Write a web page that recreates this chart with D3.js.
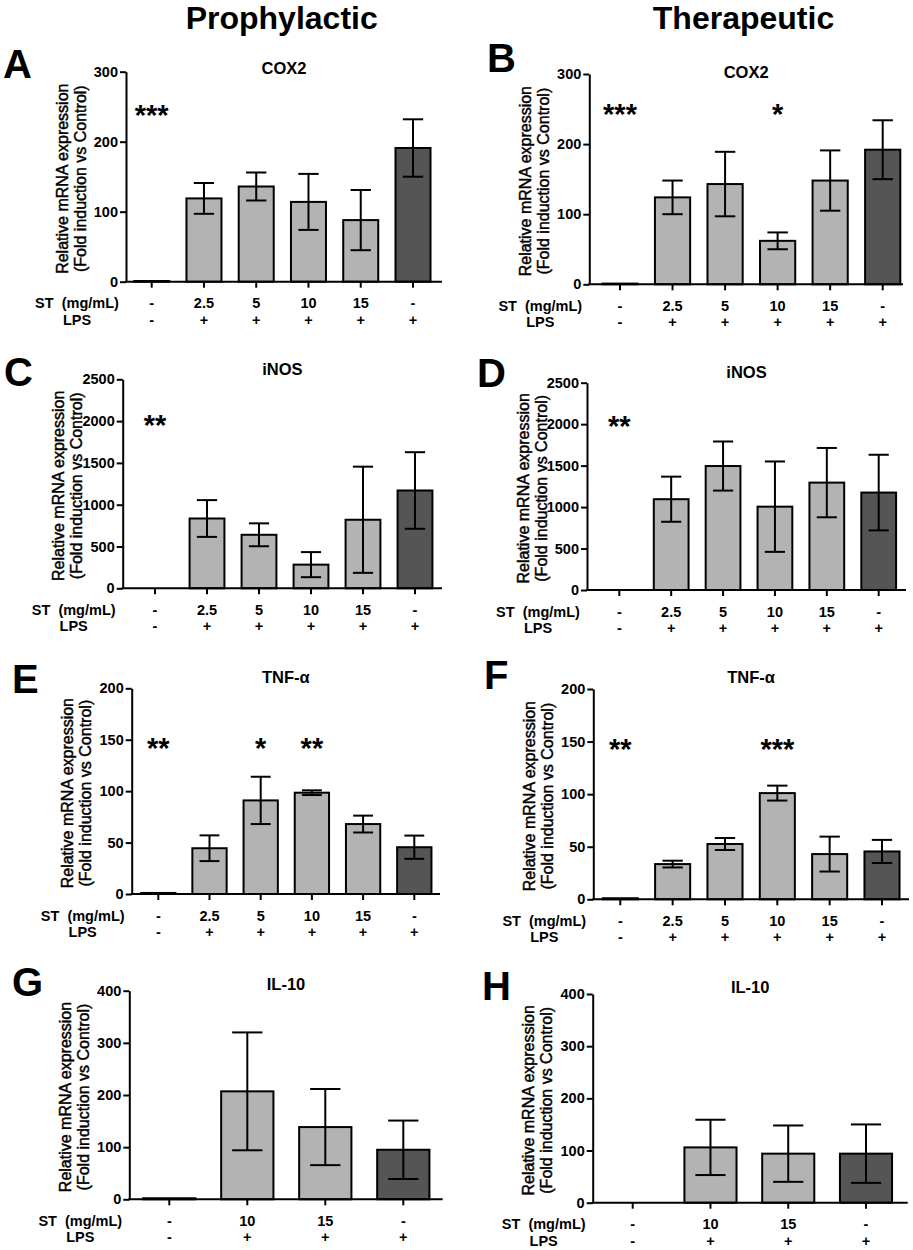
<!DOCTYPE html>
<html><head><meta charset="utf-8">
<script src="https://cdn.jsdelivr.net/npm/d3@7"></script>
<style>
body{margin:0;background:#fff}
svg text{font-family:"Liberation Sans",Arial,Helvetica,sans-serif;fill:#000}
</style>
</head><body>
<svg id="chart" width="913" height="1250"></svg>
<script>
// ---------- data ----------
const groups6 = ["Control", "ST 2.5", "ST 5", "ST 10", "ST 15", "LPS"];
const groups4 = ["Control", "ST 10", "ST 15", "LPS"];
const stLabels6 = ["-", "2.5", "5", "10", "15", "-"];
const lpsLabels6 = ["-", "+", "+", "+", "+", "+"];
const stLabels4 = ["-", "10", "15", "-"];
const lpsLabels4 = ["-", "+", "+", "+"];

const ticksCox2 = [0, 100, 200, 300];
const ticksInos = [0, 500, 1000, 1500, 2000, 2500];
const ticksTnf = [0, 50, 100, 150, 200];
const ticksIl10 = [0, 100, 200, 300, 400];

const cox2ProMean = [1, 119, 136, 114, 88, 191];
const cox2ProErr  = [0, 22, 20, 40, 43, 41];
const cox2TherMean = [1, 124, 143, 62, 148, 192];
const cox2TherErr  = [0, 24, 46, 12, 43, 42];
const inosProMean = [0, 835, 640, 283, 820, 1170];
const inosProErr  = [0, 220, 137, 150, 635, 458];
const inosTherMean = [0, 1095, 1495, 1005, 1295, 1175];
const inosTherErr  = [0, 272, 296, 545, 418, 456];
const tnfProMean = [1, 44.5, 91, 98.5, 68, 45.5];
const tnfProErr  = [0, 12.5, 23, 2.3, 8.2, 11.3];
const tnfTherMean = [1, 33.5, 52.6, 101, 43, 45.5];
const tnfTherErr  = [0, 3.2, 5.7, 7.1, 16.6, 11];
const il10ProMean = [2, 207, 138.5, 95];
const il10ProErr  = [0, 113, 73, 56];
const il10TherMean = [0, 106, 94, 94];
const il10TherErr  = [0, 53, 54, 56];

const cox2ProSig  = ["***", "", "", "", "", ""];
const cox2TherSig = ["***", "", "", "*", "", ""];
const inosProSig  = ["**", "", "", "", "", ""];
const inosTherSig = ["**", "", "", "", "", ""];
const tnfProSig   = ["**", "", "*", "**", "", ""];
const tnfTherSig  = ["**", "", "", "***", "", ""];
const il10ProSig  = ["", "", "", ""];
const il10TherSig = ["", "", "", ""];
const sigLevels = [247, 251, 2020, 2055, 148, 149, 0, 0];

const columnHeaders = ["Prophylactic", "Therapeutic"];
const titles = ["COX2", "COX2", "iNOS", "iNOS", "TNF-\u03b1", "TNF-\u03b1", "IL-10", "IL-10"];
const letters = ["A", "B", "C", "D", "E", "F", "G", "H"];

// ---------- layout ----------
const layout = [
  {ax:126,   t0:151.7, t1:413,   xEnd:442,   yTop:71.7,  yBot:281.7,  titleY:68,    lx:3,   ly:78},
  {ax:589.3, t0:620,   t1:882.7, xEnd:903,   yTop:74,    yBot:284.3,  titleY:72,    lx:487, ly:72},
  {ax:122.7, t0:155,   t1:415,   xEnd:442,   yTop:379.3, yBot:588.3,  titleY:369,   lx:4,   ly:386},
  {ax:587,   t0:619.3, t1:878.7, xEnd:906,   yTop:382.7, yBot:590,    titleY:372.5, lx:477, ly:387},
  {ax:131.7, t0:158.3, t1:414.3, xEnd:440,   yTop:688.3, yBot:894,    titleY:677.5, lx:12,  ly:693},
  {ax:593.3, t0:620.3, t1:882,   xEnd:909,   yTop:689,   yBot:899.3,  titleY:677.5, lx:484, ly:689},
  {ax:129.3, t0:169.3, t1:403.3, xEnd:442.7, yTop:990.7, yBot:1199.3, titleY:984,   lx:12,  ly:996},
  {ax:592.7, t0:632.7, t1:866,   xEnd:907.7, yTop:994,   yBot:1202.7, titleY:987.5, lx:482, ly:1000}
];

const panels = [
  {cats:groups6, st:stLabels6, lps:lpsLabels6, mean:cox2ProMean,  err:cox2ProErr,  ticks:ticksCox2, sig:cox2ProSig},
  {cats:groups6, st:stLabels6, lps:lpsLabels6, mean:cox2TherMean, err:cox2TherErr, ticks:ticksCox2, sig:cox2TherSig},
  {cats:groups6, st:stLabels6, lps:lpsLabels6, mean:inosProMean,  err:inosProErr,  ticks:ticksInos, sig:inosProSig},
  {cats:groups6, st:stLabels6, lps:lpsLabels6, mean:inosTherMean, err:inosTherErr, ticks:ticksInos, sig:inosTherSig},
  {cats:groups6, st:stLabels6, lps:lpsLabels6, mean:tnfProMean,   err:tnfProErr,   ticks:ticksTnf,  sig:tnfProSig},
  {cats:groups6, st:stLabels6, lps:lpsLabels6, mean:tnfTherMean,  err:tnfTherErr,  ticks:ticksTnf,  sig:tnfTherSig},
  {cats:groups4, st:stLabels4, lps:lpsLabels4, mean:il10ProMean,  err:il10ProErr,  ticks:ticksIl10, sig:il10ProSig},
  {cats:groups4, st:stLabels4, lps:lpsLabels4, mean:il10TherMean, err:il10TherErr, ticks:ticksIl10, sig:il10TherSig}
];

const LIGHT = "#b3b3b3", DARK = "#555555";
const svg = d3.select("#chart");

// column headers
[281.7, 743.5].forEach((cx, i) => {
  svg.append("text").attr("x", cx).attr("y", 29).attr("text-anchor", "middle")
    .style("font-size", "32px").style("font-weight", "bold").text(columnHeaders[i]);
});

panels.forEach((p, k) => {
  const L = layout[k];
  const n = p.cats.length;
  const s = (L.t1 - L.t0) / (n - 1);
  const x = d3.scaleBand().domain(p.cats).range([L.t0 - s / 2, L.t1 + s / 2])
    .paddingInner(0.33).paddingOuter(0.165);
  const y = d3.scaleLinear().domain([0, d3.max(p.ticks)]).range([L.yBot, L.yTop]);
  const g = svg.append("g");
  const bw = x.bandwidth();
  const cx = c => x(c) + bw / 2;

  // panel letter
  g.append("text").attr("x", L.lx).attr("y", L.ly)
    .style("font-size", "40px").style("font-weight", "bold").text(letters[k]);

  // title
  g.append("text").attr("x", (L.ax + L.xEnd) / 2).attr("y", L.titleY).attr("dy", "0.35em")
    .attr("text-anchor", "middle").style("font-size", "16.5px").style("font-weight", "bold")
    .text(titles[k]);

  // bars
  const data = p.cats.map((c, i) => ({c, m: p.mean[i], e: p.err[i], i}));
  g.selectAll("rect.bar").data(data.filter(d => d.m > 0)).join("rect")
    .attr("class", "bar")
    .attr("x", d => x(d.c)).attr("width", bw)
    .attr("y", d => y(d.m)).attr("height", d => y(0) - y(d.m))
    .attr("fill", d => d.i === n - 1 ? DARK : LIGHT)
    .attr("stroke", "#000").attr("stroke-width", 2);

  // error bars
  const capW = bw * 0.58;
  const eb = g.selectAll("g.eb").data(data.filter(d => d.e > 0)).join("g").attr("class", "eb")
    .attr("stroke", "#000").attr("stroke-width", 2);
  eb.append("line").attr("x1", d => cx(d.c)).attr("x2", d => cx(d.c))
    .attr("y1", d => y(d.m - d.e)).attr("y2", d => y(d.m + d.e));
  eb.append("line").attr("x1", d => cx(d.c) - capW / 2).attr("x2", d => cx(d.c) + capW / 2)
    .attr("y1", d => y(d.m + d.e)).attr("y2", d => y(d.m + d.e));
  eb.append("line").attr("x1", d => cx(d.c) - capW / 2).attr("x2", d => cx(d.c) + capW / 2)
    .attr("y1", d => y(d.m - d.e)).attr("y2", d => y(d.m - d.e));

  // y axis
  const ya = g.append("g").attr("transform", `translate(${L.ax},0)`)
    .call(d3.axisLeft(y).tickValues(p.ticks).tickFormat(d3.format("d"))
      .tickSize(6).tickSizeOuter(0).tickPadding(2));
  ya.select(".domain").attr("stroke-width", 2);
  ya.selectAll(".tick line").attr("stroke-width", 2);
  ya.selectAll(".tick text").style("font-size", "14.5px").style("font-weight", "bold")
    .style("font-family", "'Liberation Sans',Arial,sans-serif").attr("fill", "#000");

  // x axis
  g.append("line").attr("x1", L.ax - 1).attr("x2", L.xEnd).attr("y1", L.yBot).attr("y2", L.yBot)
    .attr("stroke", "#000").attr("stroke-width", 2);
  const xa = g.append("g").attr("transform", `translate(0,${L.yBot})`)
    .call(d3.axisBottom(x).tickSize(6).tickFormat(""));
  xa.select(".domain").remove();
  xa.selectAll(".tick line").attr("stroke-width", 2);

  // category labels
  const lab = g.append("g").style("font-size", "14.5px").style("font-weight", "bold")
    .attr("text-anchor", "middle");
  p.cats.forEach((c, i) => {
    lab.append("text").attr("x", cx(c)).attr("y", L.yBot + 26.5).text(p.st[i]);
    lab.append("text").attr("x", cx(c)).attr("y", L.yBot + 43).text(p.lps[i]);
  });
  lab.append("text").attr("x", L.ax - 49).attr("y", L.yBot + 26.5)
    .attr("xml:space", "preserve").style("white-space", "pre").text("ST  (mg/mL)");
  lab.append("text").attr("x", L.ax - 49).attr("y", L.yBot + 43).text("LPS");

  // y title
  const ym = (L.yTop + L.yBot) / 2 + 2;
  [["Relative mRNA expression", L.ax - 64], ["(Fold induction vs Control)", L.ax - 46]].forEach(([t, xx]) => {
    g.append("text").attr("transform", `translate(${xx},${ym}) rotate(-90)`)
      .attr("dy", "0.35em").attr("text-anchor", "middle")
      .style("font-size", "16px").style("stroke", "#000").style("stroke-width", "0.45px")
      .text(t);
  });

  // significance stars
  p.sig.forEach((t, i) => {
    if (!t) return;
    g.append("text").attr("x", cx(p.cats[i])).attr("y", y(sigLevels[k])).attr("dy", "0.55em")
      .attr("text-anchor", "middle").style("font-size", "29px").style("font-weight", "bold").text(t);
  });
});
</script>
</body></html>
